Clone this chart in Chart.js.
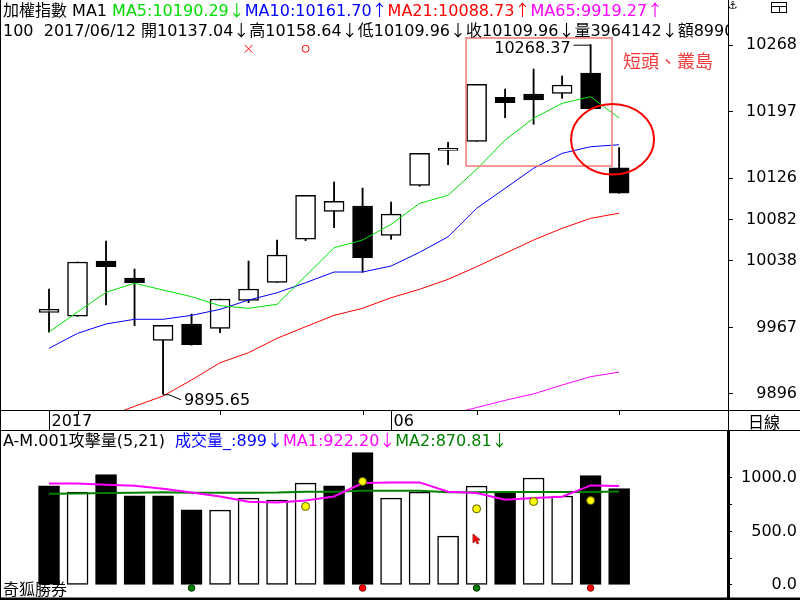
<!DOCTYPE html>
<html>
<head>
<meta charset="utf-8">
<script src="https://cdn.jsdelivr.net/npm/chart.js@4.4.0/dist/chart.umd.min.js"></script>
<style>
  html, body { margin: 0; padding: 0; background: #fff; }
  #wrap { position: relative; width: 800px; height: 600px; overflow: hidden; background: #fff; }
  #main { position: absolute; left: 0; top: 0; width: 800px; height: 431px; }
  #vol  { position: absolute; left: 0; top: 431px; width: 800px; height: 169px; }
</style>
</head>
<body>
<div id="wrap">
  <canvas id="main" width="800" height="431"></canvas>
  <canvas id="vol" width="800" height="169"></canvas>
</div>
<script>
/* ---- daily candles (21 sessions up to 2017/06/12) ---- */
const opens  = [9983, 9978.8, 10037.7, 10019.6, 9953.2, 9970.6, 9966, 9995.8, 10015, 10060.9, 10090.7, 10096.4, 10065.1, 10118.4, 10155.7, 10165.3, 10212.2, 10215.8, 10216.5, 10238.1, 10137.04];
const highs  = [10007.9, 10036.7, 10059, 10029.2, 9969.2, 9981.2, 9997.2, 10037.7, 10060.1, 10107.8, 10122, 10115.5, 10100.6, 10152.5, 10164.3, 10226.1, 10221.1, 10242.4, 10235, 10268.37, 10158.64];
const lows   = [9962, 9978.8, 9990.8, 9968.7, 9895.65, 9948, 9961.3, 9993.3, 10015, 10059.5, 10073.2, 10025.7, 10060.9, 10117.4, 10140.4, 10165.3, 10190.5, 10183.5, 10211.2, 10200.1, 10109.96];
const closes = [9986.2, 10036.7, 10031.6, 10014.6, 9969.2, 9948.5, 9997.2, 10007.9, 10044.1, 10107.8, 10101.4, 10041.2, 10087.8, 10152.5, 10157.9, 10226.1, 10206.5, 10209.4, 10225.4, 10200.1, 10109.96];

/* moving averages of the index */
const ma5  = [9962, 9983.4, 10004.4, 10014, 10006.8, 9999.7, 9990.1, 9987.3, 9991.6, 10021.7, 10051.9, 10060.1, 10076.8, 10099.2, 10107.8, 10135.5, 10166.7, 10189.9, 10205.8, 10212.9, 10190.29];
const ma10 = [9944.7, 9960.6, 9970.6, 9975.6, 9975.6, 9979.8, 9986.2, 9996.1, 10003.9, 10014.6, 10026, 10026, 10032.4, 10047, 10063.6, 10093.9, 10115.2, 10136.6, 10152.5, 10159.6, 10161.70];
const ma21 = [null, null, 9871.4, 9882.8, 9893.8, 9910.9, 9929.3, 9940, 9955.3, 9967.7, 9979.8, 9987.3, 9998.6, 10007.6, 10018.2, 10031.6, 10045.9, 10060.1, 10072.6, 10083.2, 10088.73];
const ma65 = [null, null, null, null, null, null, null, null, null, null, null, null, null, null, 9873.8, 9881.5, 9889.2, 9896.1, 9905.5, 9914.4, 9919.27];

/* volume panel */
const volumes = [925, 866, 1028, 832, 832, 701, 698, 810, 792, 950, 925, 1234, 810, 866, 455, 922, 866, 997, 829, 1019, 899];
const volDown = [1, 0, 1, 1, 1, 1, 0, 0, 0, 0, 1, 1, 0, 0, 0, 0, 1, 0, 0, 1, 1];
const volMA1  = [947, 947, 935, 925, 897, 863, 825, 776, 769, 788, 825, 950, 956, 956, 869, 857, 794, 810, 822, 928, 922.20];
const volMA2  = [851, 853, 857, 860, 864, 860, 860, 860, 862, 870, 870, 879, 879, 879, 864, 864, 867, 867, 867, 867, 870.81];

/* signal marks */
const yellowIdx = [9, 11, 15, 17, 19];
const yellowVal = [732, 965, 710, 778, 787];
const greenIdx  = [5, 15];
const redIdx    = [11, 19];
const signalVal = -28;
const cursorIdx = 15, cursorVal = 429;
const topMarkIdx = [7, 9];
const topMarkVal = 10264;

/* axes */
const priceTicks = [10268, 10197, 10126, 10082, 10038, 9967, 9896];
const volTicks   = [0, 250, 500, 750, 1000];
const volLabeled = [0, 500, 1000];
const dateLabels = [{ i: 0, text: '2017' }, { i: 12, text: '06' }];
const dateTicks  = [1, 6, 11, 15, 20];

const headerVol = '3964142', headerAmt = '8990';

const X_MIN = -1.72, X_MAX = 23.82;
const Y_MIN = 9878.9, Y_MAX = 10316.0;
const V_MIN = -121.2, V_MAX = 1435.2;

const LATIN = "16px 'DejaVu Sans', 'Noto Sans CJK TC', sans-serif";
const CJK   = "16px 'Noto Sans CJK TC', 'DejaVu Sans', sans-serif";

Chart.defaults.font.family = "'DejaVu Sans', 'Noto Sans CJK TC', sans-serif";
Chart.defaults.font.size = 16;
Chart.defaults.color = '#000';
Chart.defaults.animation = false;

const xy = arr => arr.map((v, i) => ({ x: i, y: v }));

// text with several colours; arrows are full width like the terminal font
function drawRich(ctx, x, y, segs) {
  segs.forEach(([text, color]) => {
    ctx.fillStyle = color;
    text.split(/([↑↓])/).forEach(part => {
      if (!part) return;
      ctx.font = /[↑↓]/.test(part) ? CJK : LATIN;
      ctx.fillText(part, x, y);
      x += ctx.measureText(part).width;
    });
  });
}

function line(ctx, x1, y1, x2, y2, w, c) {
  ctx.beginPath();
  ctx.lineWidth = w; ctx.strokeStyle = c;
  ctx.moveTo(x1, y1); ctx.lineTo(x2, y2); ctx.stroke();
}

const last = closes.length - 1;
const arrow = (a, b) => (a >= b ? '↑' : '↓');

const mainDecor = {
  id: 'mainDecor',
  afterDatasetsDraw(chart) {
    const { ctx, scales: { x, y } } = chart;
    const px = i => x.getPixelForValue(i), py = v => y.getPixelForValue(v);
    ctx.save();
    // highlighted range
    ctx.strokeStyle = '#f07878'; ctx.lineWidth = 1.5;
    const bx0 = px(14.63), bx1 = px(19.75), by0 = py(10275.5), by1 = py(10139);
    ctx.strokeRect(bx0, by0, bx1 - bx0, by1 - by0);
    ctx.strokeStyle = '#ff0000'; ctx.lineWidth = 2;
    ctx.beginPath();
    ctx.ellipse(px(19.77), py(10167.5), 41.5, 35.3, 0, 0, Math.PI * 2);
    ctx.stroke();
    ctx.fillStyle = '#f03c3c';
    ctx.font = "18px 'Noto Sans CJK TC', sans-serif";
    ctx.textBaseline = 'alphabetic';
    ctx.fillText('短頭、叢島', 623, 68);

    // max / min labels
    ctx.font = LATIN; ctx.fillStyle = '#000';
    const hx = px(19), hy = py(highs[19]);
    line(ctx, hx - 17, hy + 0.5, hx, hy + 0.5, 1, '#000');
    ctx.textAlign = 'right';
    ctx.fillText(highs[19].toFixed(2), hx - 20, hy + 8);
    const lx = px(4), ly = py(lows[4]);
    ctx.beginPath(); ctx.lineWidth = 1; ctx.strokeStyle = '#000';
    ctx.moveTo(lx, ly + 0.5); ctx.lineTo(lx + 6, ly + 0.5); ctx.lineTo(lx + 18, ly + 5.5); ctx.stroke();
    ctx.textAlign = 'left';
    ctx.fillText(lows[4].toFixed(2), lx + 21, ly + 11);
    ctx.restore();
  },
  afterDraw(chart) {
    const { ctx, chartArea: a, scales: { x } } = chart;
    ctx.save();
    // header lines
    drawRich(ctx, 3, 16, [
      ['加權指數 MA1 ', '#000'],
      ['MA5:' + ma5[last].toFixed(2) + arrow(ma5[last], ma5[last - 1]), '#00dd00'],
      ['MA10:' + ma10[last].toFixed(2) + arrow(ma10[last], ma10[last - 1]), '#0000ff'],
      ['MA21:' + ma21[last].toFixed(2) + arrow(ma21[last], ma21[last - 1]), '#ff0000'],
      ['MA65:' + ma65[last].toFixed(2) + arrow(ma65[last], ma65[last - 1]), '#ff00ff']
    ]);
    ctx.save();
    ctx.beginPath(); ctx.rect(0, 18, a.right, 22); ctx.clip();
    drawRich(ctx, 3, 36, [[
      '100  2017/06/12 開' + opens[last].toFixed(2) + '↓高' + highs[last].toFixed(2) + '↓低' +
      lows[last].toFixed(2) + '↓收' + closes[last].toFixed(2) + '↓量' + headerVol + '↓額' + headerAmt + '0', '#000']]);
    ctx.restore();

    // frame
    line(ctx, 0.5, 0, 0.5, 431, 1, '#000');
    line(ctx, 0, a.bottom + 0.5, 800, a.bottom + 0.5, 1, '#000');
    line(ctx, 0, 430.5, 800, 430.5, 1, '#000');
    line(ctx, a.right + 0.5, a.bottom, a.right + 0.5, 431, 1, '#000');

    // date strip
    dateTicks.forEach(i => {
      const p = Math.round(x.getPixelForValue(i)) + 0.5;
      line(ctx, p, a.bottom, p, a.bottom + 5, 1, '#000');
    });
    ctx.font = LATIN; ctx.fillStyle = '#000'; ctx.textAlign = 'left';
    dateLabels.forEach(d => {
      const p = Math.round(x.getPixelForValue(d.i)) + 0.5;
      line(ctx, p, a.bottom, p, 431, 1, '#000');
      ctx.fillText(d.text, p + 2, 426);
    });
    ctx.font = CJK; ctx.textAlign = 'center';
    ctx.fillText('日線', 764, 428);

    // small icons at top right
    ctx.font = "11px 'DejaVu Sans'"; ctx.textAlign = 'center';
    ctx.fillText('⚓', 733, 9);
    ctx.lineWidth = 1; ctx.strokeStyle = '#000';
    ctx.strokeRect(771.5, 2.5, 15, 10);
    line(ctx, 771.5, 6.5, 786.5, 6.5, 1, '#000');
    line(ctx, 779.5, 6.5, 779.5, 12.5, 1, '#000');
    ctx.restore();
  }
};

new Chart(document.getElementById('main'), {
  type: 'bar',
  data: {
    datasets: [
      { type: 'line', label: 'MA5', data: xy(ma5), borderColor: '#00e000', borderWidth: 1, pointRadius: 0, order: 0 },
      { type: 'line', label: 'MA10', data: xy(ma10), borderColor: '#0000ff', borderWidth: 1, pointRadius: 0, order: 0 },
      { type: 'line', label: 'MA21', data: xy(ma21), borderColor: '#ff0000', borderWidth: 1, pointRadius: 0, order: 0 },
      { type: 'line', label: 'MA65', data: xy(ma65), borderColor: '#ff00ff', borderWidth: 1, pointRadius: 0, order: 0 },
      {
        type: 'line', label: 'marks', showLine: false, order: -1,
        data: topMarkIdx.map(i => ({ x: i, y: topMarkVal })),
        pointStyle: ['crossRot', 'circle'], pointRadius: [5.5, 3.5],
        borderColor: '#ff0000', backgroundColor: 'rgba(0,0,0,0)', borderWidth: 1
      },
      {
        label: 'body', order: 2, grouped: false, barThickness: 20,
        data: opens.map((o, i) => ({ x: i, y: [o, closes[i]] })),
        backgroundColor: closes.map((c, i) => (c >= opens[i] ? '#fff' : '#000')),
        borderColor: '#000', borderWidth: 1.5, borderSkipped: false
      },
      {
        label: 'wick', order: 3, grouped: false, barThickness: 1.2,
        data: lows.map((l, i) => ({ x: i, y: [l, highs[i]] })),
        backgroundColor: '#000'
      }
    ]
  },
  options: {
    responsive: false,
    animation: false,
    layout: { autoPadding: false, padding: { left: 0, right: 3, top: 0, bottom: 21 } },
    plugins: { legend: { display: false }, tooltip: { enabled: false } },
    scales: {
      x: { type: 'linear', min: X_MIN, max: X_MAX, offset: false, display: false },
      y: {
        position: 'right', min: Y_MIN, max: Y_MAX,
        afterBuildTicks: s => { s.ticks = priceTicks.map(v => ({ value: v })); },
        afterFit: s => { s.width = 69; s.paddingTop = 0; s.paddingBottom = 0; },
        ticks: { crossAlign: 'far', autoSkip: false, callback: v => String(v) },
        grid: { drawOnChartArea: false, drawTicks: true, tickLength: 5, color: '#000' },
        border: { display: true, color: '#000', width: 1 }
      }
    }
  },
  plugins: [mainDecor]
});

/* mouse pointer image */
const cursor = document.createElement('canvas');
cursor.width = 9; cursor.height = 12;
(() => {
  const c = cursor.getContext('2d');
  c.fillStyle = '#ff0000'; c.strokeStyle = '#900000'; c.lineWidth = 0.8;
  c.beginPath();
  c.moveTo(1, 1); c.lineTo(1, 10); c.lineTo(3.5, 7.5); c.lineTo(5, 11); c.lineTo(6.5, 10.3);
  c.lineTo(5, 7); c.lineTo(8, 7); c.closePath();
  c.fill(); c.stroke();
})();

const volDecor = {
  id: 'volDecor',
  afterDraw(chart) {
    const { ctx, chartArea: a } = chart;
    ctx.save();
    drawRich(ctx, 3, 15, [
      ['A-M.001攻擊量(5,21)  ', '#000'],
      ['成交量_:' + volumes[last] + arrow(volumes[last], volumes[last - 1]), '#0000ff'],
      ['MA1:' + volMA1[last].toFixed(2) + arrow(volMA1[last], volMA1[last - 1]), '#ff00ff'],
      ['MA2:' + volMA2[last].toFixed(2) + '↓', '#008000']
    ]);
    ctx.font = CJK; ctx.fillStyle = '#000';
    ctx.fillText('奇狐勝券', 3, 164);
    line(ctx, 0.5, 0, 0.5, 169, 1, '#000');
    line(ctx, 0, a.bottom + 1, 800, a.bottom + 1, 3, '#000');
    ctx.restore();
  }
};

new Chart(document.getElementById('vol'), {
  type: 'bar',
  data: {
    datasets: [
      { type: 'line', data: xy(volMA1), borderColor: '#ff00ff', borderWidth: 2, pointRadius: 0, order: 1 },
      { type: 'line', data: xy(volMA2), borderColor: '#008000', borderWidth: 2, pointRadius: 0, order: 1 },
      {
        type: 'line', showLine: false, order: 0,
        data: yellowIdx.map((i, k) => ({ x: i, y: yellowVal[k] })),
        pointRadius: 4, backgroundColor: '#ffff00', borderColor: '#5a5a00', borderWidth: 1
      },
      {
        type: 'line', showLine: false, order: 0,
        data: greenIdx.map(i => ({ x: i, y: signalVal })),
        pointRadius: 3.3, backgroundColor: '#008000', borderColor: '#003000', borderWidth: 1
      },
      {
        type: 'line', showLine: false, order: 0,
        data: redIdx.map(i => ({ x: i, y: signalVal })),
        pointRadius: 3.3, backgroundColor: '#ff0000', borderColor: '#800000', borderWidth: 1
      },
      {
        type: 'line', showLine: false, order: -1,
        data: [{ x: cursorIdx, y: cursorVal }], pointStyle: cursor, pointRadius: 6
      },
      {
        order: 2, grouped: false, barThickness: 21,
        data: xy(volumes),
        backgroundColor: volDown.map(d => (d ? '#000' : '#fff')),
        borderColor: '#000', borderWidth: 1.5, borderSkipped: false
      }
    ]
  },
  options: {
    responsive: false,
    animation: false,
    layout: { autoPadding: false, padding: { left: 0, right: 3, top: 0, bottom: 2 } },
    plugins: { legend: { display: false }, tooltip: { enabled: false } },
    scales: {
      x: { type: 'linear', min: X_MIN, max: X_MAX, offset: false, display: false },
      y: {
        position: 'right', min: V_MIN, max: V_MAX,
        afterBuildTicks: s => { s.ticks = volTicks.map(v => ({ value: v })); },
        afterFit: s => { s.width = 69; s.paddingTop = 0; s.paddingBottom = 0; },
        ticks: { crossAlign: 'far', autoSkip: false, callback: v => (volLabeled.includes(v) ? v.toFixed(1) : '') },
        grid: { drawOnChartArea: false, drawTicks: true, tickLength: 4, color: '#000' },
        border: { display: true, color: '#000', width: 3 }
      }
    }
  },
  plugins: [volDecor]
});
</script>
</body>
</html>
